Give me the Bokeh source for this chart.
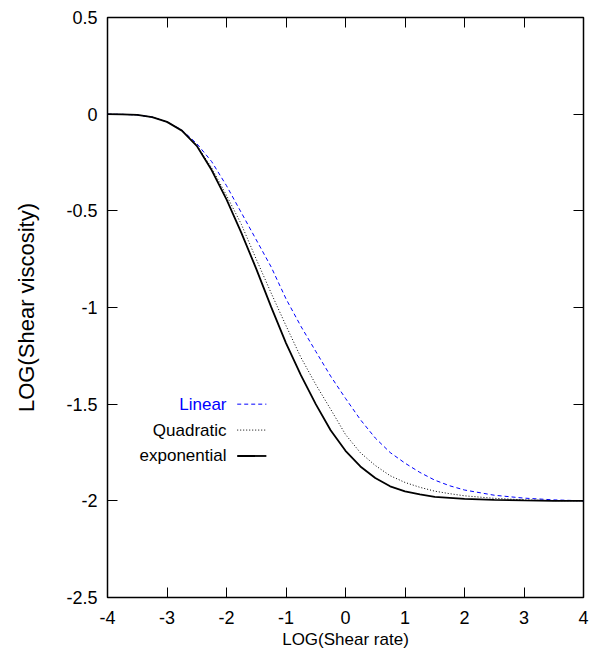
from bokeh.plotting import figure
from bokeh.models import LinearAxis, Label, FixedTicker, Range1d, CustomJSTickFormatter
from bokeh.embed import file_html
from bokeh.resources import INLINE

# ---- data ----
x_vals = [-4.0, -3.75, -3.5, -3.25, -3.0, -2.75, -2.5, -2.25, -2.0, -1.75, -1.5, -1.25,
          -1.0, -0.75, -0.5, -0.25, 0.0, 0.25, 0.5, 0.75, 1.0, 1.25, 1.5, 1.75, 2.0,
          2.5, 3.0, 3.5, 4.0]
linear = [0.0, -0.001, -0.004, -0.015, -0.04, -0.082, -0.152, -0.245, -0.37, -0.51, -0.65, -0.79,
          -0.955, -1.097, -1.227, -1.355, -1.47, -1.58, -1.675, -1.75, -1.805, -1.853, -1.893, -1.922, -1.944,
          -1.971, -1.986, -1.995, -2.0]
quadratic = [0.0, -0.001, -0.004, -0.015, -0.04, -0.084, -0.16, -0.278, -0.42, -0.57, -0.75, -0.925,
             -1.094, -1.258, -1.398, -1.526, -1.657, -1.751, -1.817, -1.870, -1.905, -1.930, -1.950, -1.963, -1.974,
             -1.987, -1.995, -1.999, -2.0]
exponential = [0.0, -0.001, -0.004, -0.015, -0.04, -0.085, -0.164, -0.289, -0.441, -0.614, -0.80, -0.997,
               -1.184, -1.35, -1.50, -1.635, -1.741, -1.822, -1.882, -1.925, -1.951, -1.967, -1.980, -1.985, -1.990,
               -1.995, -1.998, -2.0, -2.0]
x_ticks = [-4, -3, -2, -1, 0, 1, 2, 3, 4]
x_tick_labels = {-4: "-4", -3: "-3", -2: "-2", -1: "-1", 0: "0", 1: "1", 2: "2", 3: "3", 4: "4"}
y_ticks = [0.5, 0, -0.5, -1, -1.5, -2, -2.5]
y_tick_labels = {0.5: "0.5", 0: "0", -0.5: "-0.5", -1: "-1", -1.5: "-1.5", -2: "-2", -2.5: "-2.5"}
series_names = ["Linear", "Quadratic", "exponential"]

FONT = "Liberation Sans"

p = figure(width=594, height=668, output_backend="svg", toolbar_location=None,
           x_range=Range1d(-4, 4), y_range=Range1d(-2.5, 0.5),
           x_axis_label="LOG(Shear rate)", y_axis_label="LOG(Shear viscosity)",
           min_border_left=107, min_border_right=11, min_border_top=17, min_border_bottom=71)
p.background_fill_color = "white"
p.border_fill_color = "white"
p.outline_line_color = "black"
p.outline_line_width = 1.5
p.xgrid.visible = False
p.ygrid.visible = False

for ax in (p.xaxis[0], p.yaxis[0]):
    ax.major_tick_in = 10
    ax.major_tick_out = 0
    ax.minor_tick_line_color = None
    ax.axis_line_color = None
    ax.major_label_text_font = FONT
    ax.major_label_text_font_size = "18px"
    ax.major_label_text_color = "black"
    ax.axis_label_text_font = FONT
    ax.axis_label_text_font_style = "normal"
    ax.axis_label_text_color = "black"
    ax.major_tick_line_width = 1

p.xaxis[0].ticker = FixedTicker(ticks=x_ticks)
p.xaxis[0].major_label_overrides = x_tick_labels
p.yaxis[0].ticker = FixedTicker(ticks=y_ticks)
p.yaxis[0].major_label_overrides = y_tick_labels
p.xaxis[0].major_label_standoff = 13
p.yaxis[0].major_label_standoff = 10
p.xaxis[0].axis_label_standoff = 3
p.xaxis[0].axis_label_text_font_size = "17px"
p.yaxis[0].axis_label_standoff = 24
p.yaxis[0].axis_label_text_font_size = "22px"

# mirror ticks on top and right
blank = CustomJSTickFormatter(code="return ''")
top = LinearAxis(ticker=FixedTicker(ticks=x_ticks), formatter=blank)
right = LinearAxis(ticker=FixedTicker(ticks=y_ticks), formatter=blank)
for ax in (top, right):
    ax.major_tick_in = 10
    ax.major_tick_out = 0
    ax.minor_tick_line_color = None
    ax.axis_line_color = None
    ax.major_label_standoff = 0
p.add_layout(top, "above")
p.add_layout(right, "right")

p.line(x_vals, linear, line_color="#0000ff", line_width=1, line_dash="4 3")
p.line(x_vals, quadratic, line_color="black", line_width=1, line_dash="1 2")
p.line(x_vals, exponential, line_color="black", line_width=1.8)

# legend (label on left, sample on right)
leg_y = [-1.5, -1.634, -1.768]
leg_colors = ["#0000ff", "black", "black"]
leg_dash = ["4 3", "1 2", "solid"]
leg_w = [1, 1, 1.8]
for name, yy, c, d, w in zip(series_names, leg_y, leg_colors, leg_dash, leg_w):
    p.add_layout(Label(x=-2.0, y=yy, text=name, text_align="right", text_baseline="middle",
                       text_font=FONT, text_font_size="17px", text_color=c))
    p.line([-1.82, -1.33], [yy, yy], line_color=c, line_dash=d, line_width=w)

open("out.html", "w").write(file_html(p, INLINE))
